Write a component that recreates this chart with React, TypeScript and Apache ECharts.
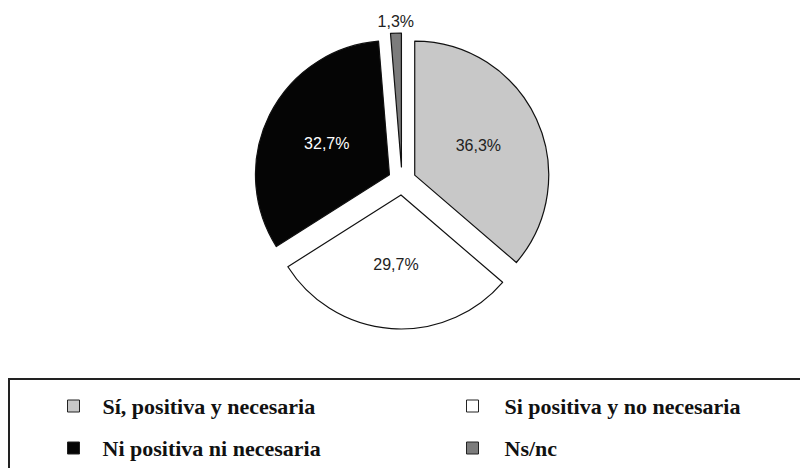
import React, { useEffect, useRef } from "react";
import * as echarts from "echarts";

const categories = [
  "Sí, positiva y necesaria",
  "Si positiva y no necesaria",
  "Ni positiva ni necesaria",
  "Ns/nc",
];
const values = [36.3, 29.7, 32.7, 1.3];
const colors = ["#c8c8c8", "#ffffff", "#050505", "#7c7c7c"];
const labelColors = ["#222222", "#222222", "#ffffff", "#222222"];
const legendCol1 = [categories[0], categories[2]];
const legendCol2 = [categories[1], categories[3]];

const fmt = (v: number) => v.toFixed(1).replace(".", ",") + "%";

export default function App() {
  const ref = useRef<HTMLDivElement>(null);
  useEffect(() => {
    if (!ref.current) return;
    const chart = echarts.init(ref.current, undefined, { renderer: "svg" });
    const legendText = {
      fontFamily: "Liberation Serif",
      fontWeight: "bold" as const,
      fontSize: 22,
      color: "#111",
      lineHeight: 22,
    };
    const legendBase = {
      orient: "vertical" as const,
      top: 395,
      height: 70,
      padding: 0,
      icon: "rect",
      itemWidth: 12,
      itemHeight: 12,
      itemGap: 20,
      itemStyle: { borderColor: "#222", borderWidth: 1 },
    };
    chart.setOption({
      animation: false,
      backgroundColor: "#ffffff",
      graphic: [
        {
          type: "rect",
          shape: { x: 9, y: 379, width: 800, height: 100 },
          style: { fill: "none", stroke: "#222", lineWidth: 2 },
          z: 0,
        },
      ],
      legend: [
        {
          ...legendBase,
          left: 67,
          data: legendCol1,
          textStyle: { ...legendText, padding: [0, 0, 0, 18] },
        },
        {
          ...legendBase,
          left: 466,
          data: legendCol2,
          textStyle: { ...legendText, padding: [0, 0, 0, 21] },
        },
      ],
      series: [
        {
          type: "pie",
          center: [402, 181],
          radius: 134,
          startAngle: 90,
          clockwise: true,
          selectedMode: "multiple",
          selectedOffset: 14,
          avoidLabelOverlap: false,
          itemStyle: { borderColor: "#111", borderWidth: 1.2 },
          emphasis: { disabled: true },
          label: {
            position: "inside",
            fontFamily: "Liberation Sans",
            fontSize: 16,
            formatter: (p: any) => fmt(p.value),
          },
          labelLine: { show: false },
          labelLayout: (p: any) =>
            p.dataIndex === 3 ? { align: "center", verticalAlign: "bottom" } : {},
          data: categories.map((name, i) => ({
            name,
            value: values[i],
            selected: true,
            itemStyle: { color: colors[i] },
            label:
              i === 3
                ? {
                    position: "outside",
                    color: labelColors[i],
                    distanceToLabelLine: 0,
                  }
                : { color: labelColors[i] },
            labelLine: i === 3 ? { show: false, length: 4, length2: 0 } : { show: false },
          })),
        },
      ],
    });
    return () => chart.dispose();
  }, []);
  return (
    <div
      ref={ref}
      style={{ position: "fixed", left: 0, top: 0, width: 800, height: 468 }}
    />
  );
}
